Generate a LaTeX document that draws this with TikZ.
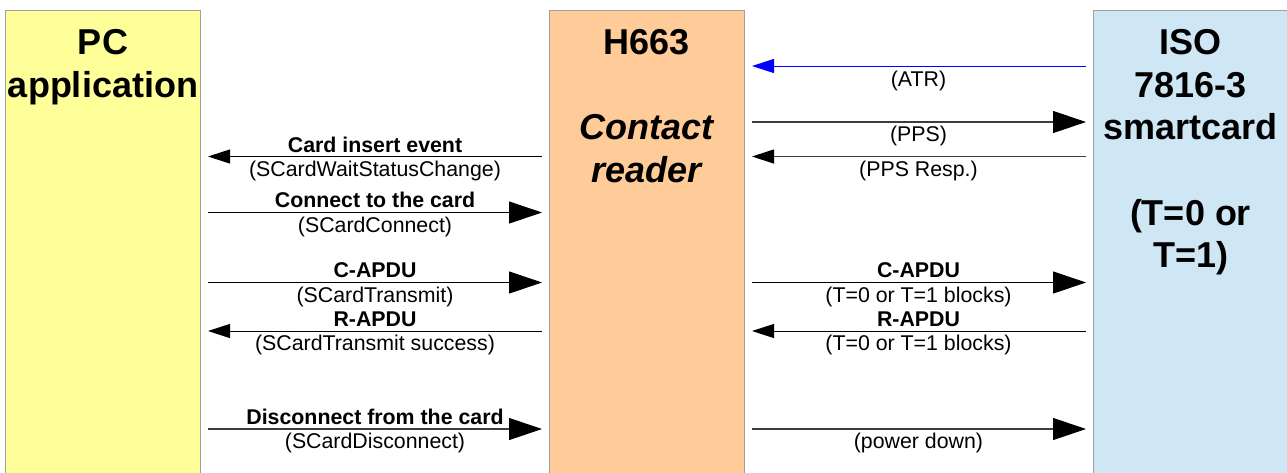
\documentclass[tikz,border=0pt]{standalone}
\usepackage{fontspec}
\setmainfont{Liberation Sans}
\usetikzlibrary{arrows.meta}
\definecolor{pcyellow}{RGB}{255,255,153}
\definecolor{rdorange}{RGB}{255,204,153}
\definecolor{cardblue}{RGB}{207,231,245}
\definecolor{boxline}{RGB}{160,160,160}
\definecolor{atrblue}{RGB}{0,0,255}
\definecolor{msggray}{RGB}{60,60,60}
\begin{document}
\begin{tikzpicture}[x=0.75pt,y=-0.75pt,
  box/.style={draw=boxline, line width=0.75pt, anchor=north west,
    minimum width=146.25pt, minimum height=360pt, inner sep=0pt, outer sep=0pt},
  title/.style={font=\fontsize{27}{32}\selectfont\bfseries, align=center,
    anchor=north, inner sep=0pt},
  lbl/.style={font=\fontsize{16}{19}\selectfont\bfseries, anchor=base, inner sep=0pt},
  sublbl/.style={font=\fontsize{16}{19}\selectfont, anchor=base, inner sep=0pt},
  msg/.style={line width=0.75pt, draw=black},
  graymsg/.style={line width=0.9pt, draw=msggray},
  bigtip/.style={-{Triangle[length=24.75pt,width=16.5pt,color=black]}},
  smalltip/.style={-{Triangle[length=16.5pt,width=10.5pt,color=black]}},
  bluetip/.style={-{Triangle[length=16.5pt,width=10.5pt,color=atrblue]}},
]
\useasboundingbox (0,0) rectangle (1287,472);
\clip (0,0) rectangle (1287,472);
\fill[white] (0,0) rectangle (1287,472);

% columns
\node[box, fill=pcyellow] (pc) at (5.5,10.5) {};
\node[box, fill=rdorange] (rd) at (549,10.5) {};
\node[box, fill=cardblue] (sc) at (1093,10.5) {};

\node[title] (pctitle) at (103,29) {PC\\application};
\node[title] (rdtitle) at (646.5,29) {H663\\[32pt]\itshape Contact\\\itshape reader};
\node[title] (sctitle) at (1190.5,29) {ISO\\7816-3\\smartcard\\[32pt](T=0 or\\T=1)};

% left side end points
\coordinate (pA) at (208,156.5);  \coordinate (rA) at (542,156.5);
\coordinate (pB) at (208,212.5);  \coordinate (rB) at (542,212.5);
\coordinate (pC) at (208,282.5);  \coordinate (rC) at (542,282.5);
\coordinate (pD) at (208,331);    \coordinate (rD) at (542,331);
\coordinate (pE) at (208,429);    \coordinate (rE) at (542,429);

% right side end points
\coordinate (rF) at (752,66);     \coordinate (sF) at (1086,66);
\coordinate (rG) at (752,122);    \coordinate (sG) at (1086,122);
\coordinate (rH) at (752,156.5);  \coordinate (sH) at (1086,156.5);
\coordinate (rI) at (752,282.5);  \coordinate (sI) at (1086,282.5);
\coordinate (rJ) at (752,331);    \coordinate (sJ) at (1086,331);
\coordinate (rK) at (752,429);    \coordinate (sK) at (1086,429);

% left messages
\draw[msg, smalltip] (rA) -- (pA);
\node[lbl] (lA) at (375,152) {Card insert event};
\node[sublbl] (tA) at (375,176.5) {(SCardWaitStatusChange)};

\draw[msg, bigtip] (pB) -- (rB);
\node[lbl] (lB) at (375,207.5) {Connect to the card};
\node[sublbl] (tB) at (375,232) {(SCardConnect)};

\draw[msg, bigtip] (pC) -- (rC);
\node[lbl] (lC) at (375,277.5) {C-APDU};
\node[sublbl] (tC) at (375,302) {(SCardTransmit)};

\draw[msg, smalltip] (rD) -- (pD);
\node[lbl] (lD) at (375,326) {R-APDU};
\node[sublbl] (tD) at (375,350.5) {(SCardTransmit success)};

\draw[graymsg, bigtip] (pE) -- (rE);
\node[lbl] (lE) at (375,424) {Disconnect from the card};
\node[sublbl] (tE) at (375,448) {(SCardDisconnect)};

% right messages
\draw[line width=0.75pt, draw=atrblue, bluetip] (sF) -- (rF);
\node[sublbl] (tF) at (918.5,86.5) {(ATR)};

\draw[graymsg, bigtip] (rG) -- (sG);
\node[sublbl] (tG) at (918.5,141) {(PPS)};

\draw[graymsg, smalltip] (sH) -- (rH);
\node[sublbl] (tH) at (918.5,176.5) {(PPS Resp.)};

\draw[msg, bigtip] (rI) -- (sI);
\node[lbl] (lI) at (918.5,277.5) {C-APDU};
\node[sublbl] (tI) at (918.5,302) {(T=0 or T=1 blocks)};

\draw[msg, smalltip] (sJ) -- (rJ);
\node[lbl] (lJ) at (918.5,326) {R-APDU};
\node[sublbl] (tJ) at (918.5,350.5) {(T=0 or T=1 blocks)};

\draw[graymsg, bigtip] (rK) -- (sK);
\node[sublbl] (tK) at (918.5,448) {(power down)};
\end{tikzpicture}
\end{document}
